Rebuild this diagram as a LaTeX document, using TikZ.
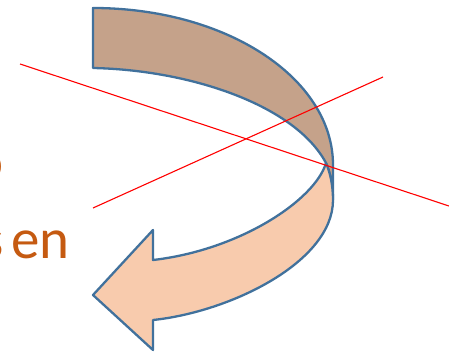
\documentclass[tikz,border=0pt]{standalone}
\usepackage{fontspec}
\setmainfont{Carlito}
\definecolor{edgeblue}{RGB}{65,113,156}
\definecolor{bandtan}{RGB}{197,162,138}
\definecolor{bandpeach}{RGB}{248,203,173}
\definecolor{textrust}{RGB}{197,90,17}

\begin{document}
\begin{tikzpicture}[x=1pt, y=-1pt,
    band/.style={draw=edgeblue, line width=2.3pt, line join=round},
    cutline/.style={draw=red, line width=1.1pt},
    sidetext/.style={text=textrust, inner sep=0pt, font=\fontsize{57}{68}\selectfont}]
  \useasboundingbox (0,0) rectangle (449,353);
  \begin{scope}
    \clip (0,0) rectangle (449,353);
    % text cut at the left edge
    \node[sidetext, anchor=base east] (topword) at (4,180) {o};
    \node[sidetext, anchor=base east] (lowword) at (70,258) {\spaceskip=0.13em\relax s en};
    % upper band of the arrow
    \path[band, fill=bandtan] (93,8) .. controls (226,8) and (333,78) .. (333,165)
      -- (333,200) .. controls (333,185) and (330,172) .. (326,163)
      .. controls (295,105) and (190,70) .. (93,68) -- cycle;
    % lower band with the head
    \path[band, fill=bandpeach] (326,163) .. controls (330,172) and (333,185) .. (333,200)
      .. controls (333,262) and (230,312) .. (153,320)
      -- (153,350) -- (93,295) -- (153,230) -- (153,260)
      .. controls (240,250) and (315,200) .. (326,163) -- cycle;
    % crossing lines
    \draw[cutline] (20,64) -- (449,206);
    \draw[cutline] (93,208) -- (383,77);
  \end{scope}
\end{tikzpicture}
\end{document}
